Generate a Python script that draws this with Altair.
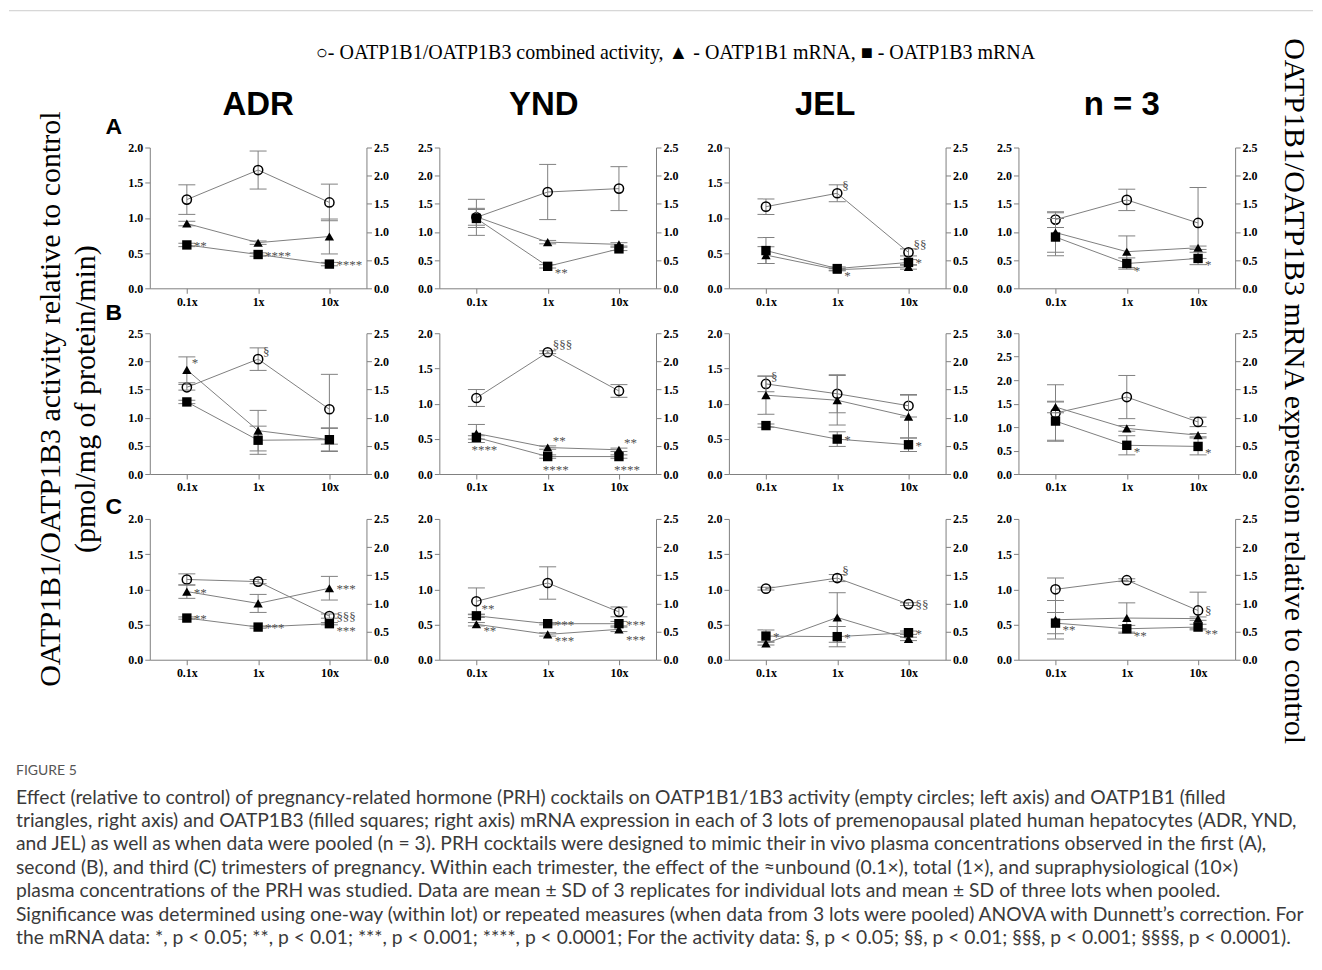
import altair as alt
import pandas as pd

# ---------------- data ----------------
DOSES = ["0.1x", "1x", "10x"]
LOTS = ["ADR", "YND", "JEL", "n = 3"]
TRIMESTERS = ["A", "B", "C"]
LEFT_MAX = [[2.0, 2.5, 2.0, 2.5], [2.5, 2.0, 2.0, 3.0], [2.0, 2.0, 2.0, 2.0]]
RIGHT_MAX = 2.5

# OATP1B1/1B3 combined activity (left axis), rows = lots, cols = doses
ACT_A = [[1.26, 1.68, 1.22], [1.26, 1.71, 1.77], [1.16, 1.35, 0.51], [1.22, 1.57, 1.16]]
ACT_A_SD = [[0.21, 0.27, 0.26], [0.32, 0.49, 0.39], [0.11, 0.12, 0.05], [0.14, 0.19, 0.63]]
ACT_B = [[1.54, 2.04, 1.15], [1.08, 1.73, 1.18], [1.28, 1.14, 0.97], [1.30, 1.64, 1.11]]
ACT_B_SD = [[0.05, 0.20, 0.62], [0.12, 0.02, 0.09], [0.11, 0.27, 0.16], [0.60, 0.46, 0.10]]
ACT_C = [[1.14, 1.11, 0.62], [0.83, 1.09, 0.68], [1.01, 1.16, 0.79], [1.00, 1.13, 0.70]]
ACT_C_SD = [[0.08, 0.03, 0.03], [0.19, 0.23, 0.07], [0.02, 0.05, 0.02], [0.16, 0.02, 0.26]]

# OATP1B1 mRNA (right axis)
B1_A = [[1.15, 0.81, 0.92], [1.27, 0.82, 0.78], [0.59, 0.33, 0.38], [0.99, 0.65, 0.72]]
B1_A_SD = [[0.04, 0.03, 0.31], [0.15, 0.03, 0.03], [0.15, 0.02, 0.04], [0.35, 0.28, 0.03]]
B1_B = [[1.85, 0.77, 0.61], [0.72, 0.47, 0.43], [1.40, 1.31, 1.02], [1.19, 0.81, 0.69]]
B1_B_SD = [[0.23, 0.36, 0.21], [0.16, 0.03, 0.03], [0.34, 0.44, 0.38], [0.10, 0.05, 0.03]]
B1_C = [[1.21, 1.00, 1.27], [0.63, 0.45, 0.54], [0.29, 0.75, 0.37], [0.71, 0.74, 0.73]]
B1_C_SD = [[0.12, 0.16, 0.21], [0.03, 0.03, 0.04], [0.03, 0.44, 0.03], [0.34, 0.27, 0.03]]

# OATP1B3 mRNA (right axis)
B3_A = [[0.77, 0.60, 0.43], [1.24, 0.39, 0.70], [0.67, 0.35, 0.46], [0.91, 0.44, 0.53]]
B3_A_SD = [[0.03, 0.03, 0.03], [0.16, 0.03, 0.03], [0.23, 0.03, 0.05], [0.33, 0.10, 0.11]]
B3_B = [[1.28, 0.60, 0.61], [0.65, 0.31, 0.31], [0.86, 0.62, 0.52], [0.94, 0.51, 0.49]]
B3_B_SD = [[0.03, 0.25, 0.20], [0.03, 0.03, 0.03], [0.03, 0.13, 0.12], [0.34, 0.17, 0.15]]
B3_C = [[0.74, 0.58, 0.64], [0.78, 0.64, 0.64], [0.42, 0.41, 0.48], [0.65, 0.55, 0.58]]
B3_C_SD = [[0.02, 0.02, 0.02], [0.03, 0.02, 0.04], [0.11, 0.18, 0.03], [0.19, 0.06, 0.05]]

# significance labels: (trimester, lot, series, dose, label)
ANNOT = [
    ("A", "ADR", "OATP1B3", "0.1x", "**"), ("A", "ADR", "OATP1B3", "1x", "****"),
    ("A", "ADR", "OATP1B3", "10x", "****"), ("A", "YND", "OATP1B3", "1x", "**"),
    ("A", "JEL", "act", "1x", "§"), ("A", "JEL", "act", "10x", "§§"),
    ("A", "JEL", "OATP1B3", "1x", "*"), ("A", "JEL", "OATP1B3", "10x", "*"),
    ("A", "n = 3", "OATP1B3", "1x", "*"), ("A", "n = 3", "OATP1B3", "10x", "*"),
    ("B", "ADR", "OATP1B1", "0.1x", "*"), ("B", "ADR", "act", "1x", "§"),
    ("B", "YND", "act", "1x", "§§§"), ("B", "YND", "OATP1B1", "1x", "**"),
    ("B", "YND", "OATP1B1", "10x", "**"), ("B", "YND", "OATP1B3", "0.1x", "****"),
    ("B", "YND", "OATP1B3", "1x", "****"), ("B", "YND", "OATP1B3", "10x", "****"),
    ("B", "JEL", "act", "0.1x", "§"), ("B", "JEL", "OATP1B3", "1x", "*"),
    ("B", "JEL", "OATP1B3", "10x", "*"),
    ("B", "n = 3", "OATP1B3", "1x", "*"), ("B", "n = 3", "OATP1B3", "10x", "*"),
    ("C", "ADR", "OATP1B1", "0.1x", "**"), ("C", "ADR", "OATP1B1", "10x", "***"),
    ("C", "ADR", "OATP1B3", "0.1x", "**"), ("C", "ADR", "OATP1B3", "1x", "***"),
    ("C", "ADR", "OATP1B3", "10x", "***"), ("C", "ADR", "act", "10x", "§§§"),
    ("C", "YND", "OATP1B3", "0.1x", "**"), ("C", "YND", "OATP1B3", "1x", "***"),
    ("C", "YND", "OATP1B3", "10x", "***"), ("C", "YND", "OATP1B1", "0.1x", "**"),
    ("C", "YND", "OATP1B1", "1x", "***"), ("C", "YND", "OATP1B1", "10x", "***"),
    ("C", "JEL", "act", "1x", "§"), ("C", "JEL", "act", "10x", "§§"),
    ("C", "JEL", "OATP1B3", "0.1x", "*"), ("C", "JEL", "OATP1B3", "1x", "*"),
    ("C", "JEL", "OATP1B3", "10x", "*"),
    ("C", "n = 3", "act", "10x", "§"), ("C", "n = 3", "OATP1B3", "0.1x", "**"),
    ("C", "n = 3", "OATP1B3", "1x", "**"), ("C", "n = 3", "OATP1B3", "10x", "**"),
]
# where each label sits relative to its marker (style only)
ANNOT_PLACE = [
    "r", "r", "r", "br",
    "tr", "tr", "br", "r",
    "br", "br",
    "tr", "tr", "tr", "tr", "tr", "b", "b", "b",
    "tr", "r", "r", "br", "br",
    "r", "r", "r", "r", "br", "r",
    "tr", "r", "r", "br", "br", "bb",
    "tr", "r", "r", "r", "r",
    "r", "br", "br", "br",
]

LEGEND_TEXT = "○- OATP1B1/OATP1B3 combined activity, ▲ - OATP1B1 mRNA, ■ - OATP1B3 mRNA"
LEFT_TITLE = ["OATP1B1/OATP1B3 activity relative to control", "(pmol/mg of protein/min)"]
RIGHT_TITLE = "OATP1B1/OATP1B3 mRNA expression relative to control"
FIG_LABEL = "FIGURE 5"
CAPTION = [
    "Effect (relative to control) of pregnancy-related hormone (PRH) cocktails on OATP1B1/1B3 activity (empty circles; left axis) and OATP1B1 (filled",
    "triangles, right axis) and OATP1B3 (filled squares; right axis) mRNA expression in each of 3 lots of premenopausal plated human hepatocytes (ADR, YND,",
    "and JEL) as well as when data were pooled (n = 3). PRH cocktails were designed to mimic their in vivo plasma concentrations observed in the first (A),",
    "second (B), and third (C) trimesters of pregnancy. Within each trimester, the effect of the ≈unbound (0.1×), total (1×), and supraphysiological (10×)",
    "plasma concentrations of the PRH was studied. Data are mean ± SD of 3 replicates for individual lots and mean ± SD of three lots when pooled.",
    "Significance was determined using one-way (within lot) or repeated measures (when data from 3 lots were pooled) ANOVA with Dunnett’s correction. For",
    "the mRNA data: *, p < 0.05; **, p < 0.01; ***, p < 0.001; ****, p < 0.0001; For the activity data: §, p < 0.05; §§, p < 0.01; §§§, p < 0.001; §§§§, p < 0.0001).",
]

# ---------------- styles ----------------
SERIF = "Liberation Serif"
SANS = "Liberation Sans"
CAP_FONT = "Lato"
GREY = "#808080"
W, H = 217, 141
TITLE_DX = [0, -4, -12, -5]
PLACE = {
    "r": dict(dx=7, dy=1),
    "br": dict(dx=7, dy=7),
    "bb": dict(dx=7, dy=11),
    "tr": dict(dx=5, dy=-7),
    "b": dict(dx=-5, dy=13),
}

# ---------------- tables ----------------
tables = {
    "act": ([ACT_A, ACT_B, ACT_C], [ACT_A_SD, ACT_B_SD, ACT_C_SD]),
    "OATP1B1": ([B1_A, B1_B, B1_C], [B1_A_SD, B1_B_SD, B1_C_SD]),
    "OATP1B3": ([B3_A, B3_B, B3_C], [B3_A_SD, B3_B_SD, B3_C_SD]),
}
recs = []
for series, (ms, ss) in tables.items():
    for ti, t in enumerate(TRIMESTERS):
        for li, lot in enumerate(LOTS):
            for di, d in enumerate(DOSES):
                recs.append(dict(tri=t, lot=lot, series=series, dose=d,
                                 value=ms[ti][li][di], sd=ss[ti][li][di]))
df = pd.DataFrame(recs)

ann = pd.DataFrame(ANNOT, columns=["tri", "lot", "series", "dose", "label"])
ann["place"] = ANNOT_PLACE
ann = ann.merge(df, on=["tri", "lot", "series", "dose"], how="left")


def yaxis(orient, maxv):
    vals = [round(0.5 * i, 1) for i in range(int(round(maxv / 0.5)) + 1)]
    return alt.Axis(orient=orient, values=vals, format=".1f", title=None, grid=False,
                    domainColor=GREY, tickColor=GREY, tickSize=5,
                    labelFont=SERIF, labelFontWeight="bold", labelFontSize=12,
                    labelColor="black", labelPadding=2)


XENC = alt.X("dose:O", sort=DOSES,
             scale=alt.Scale(type="point", domain=DOSES, padding=0.52),
             axis=alt.Axis(title=None, labelAngle=0, labelFont=SERIF, labelFontWeight="bold",
                           labelFontSize=12, labelColor="black", domainColor=GREY,
                           tickColor=GREY, tickSize=5, labelPadding=3))


def group(sub, ann_sub, maxv, orient, point_layer):
    scale = alt.Scale(domain=[0, maxv], nice=False, zero=True)
    ax = yaxis(orient, maxv)

    def Y(f):
        return alt.Y(f, scale=scale, axis=ax)

    base = alt.Chart(sub)
    errbase = base.transform_calculate(lo="datum.value - datum.sd", hi="datum.value + datum.sd")
    lines = base.mark_line(color=GREY, strokeWidth=1).encode(x=XENC, y=Y("value:Q"), detail="series:N")
    err = errbase.mark_rule(color=GREY, strokeWidth=1).encode(x=XENC, y=Y("lo:Q"), y2="hi:Q")
    caps = errbase.transform_fold(["lo", "hi"], as_=["end", "ev"]).mark_tick(
        color=GREY, size=17, thickness=1, orient="horizontal", opacity=1
    ).encode(x=XENC, y=Y("ev:Q"))
    layers = [lines, err, caps, point_layer(base, XENC, Y)]
    for key, off in PLACE.items():
        a = ann_sub[ann_sub["place"] == key]
        if len(a):
            layers.append(alt.Chart(a).mark_text(
                align="left", baseline="middle", font=SERIF, fontSize=13, color="#505050",
                **off
            ).encode(x=XENC, y=Y("value:Q"), text="label:N"))
    return alt.layer(*layers)


def circles(base, x, Y):
    return base.mark_point(shape="circle", size=85, filled=False, color="black",
                           strokeWidth=1.5, opacity=1).encode(x=x, y=Y("value:Q"))


def solids(base, x, Y):
    return base.mark_point(filled=True, size=88, color="black", opacity=1).encode(
        x=x, y=Y("value:Q"),
        shape=alt.Shape("series:N", scale=alt.Scale(domain=["OATP1B1", "OATP1B3"],
                                                     range=["triangle-up", "square"]), legend=None))


def panel(ti, li):
    t, lot = TRIMESTERS[ti], LOTS[li]
    sub = df[(df.tri == t) & (df.lot == lot)]
    asub = ann[(ann.tri == t) & (ann.lot == lot)]
    act = group(sub[sub.series == "act"], asub[asub.series == "act"], LEFT_MAX[ti][li], "left", circles)
    mrna = group(sub[sub.series != "act"], asub[asub.series != "act"], RIGHT_MAX, "right", solids)
    p = alt.layer(act, mrna).resolve_scale(y="independent").properties(width=W, height=H)
    if ti == 0:
        p = p.properties(title=alt.TitleParams(lot, font=SANS, fontWeight="bold", fontSize=33,
                                               anchor="middle", frame="group", offset=20,
                                               dx=TITLE_DX[li], color="black"))
    return p


rows = [alt.hconcat(*[panel(ti, li) for li in range(4)], spacing=29) for ti in range(3)]
grid = alt.vconcat(*rows, spacing=20,
                   title=alt.TitleParams(LEGEND_TEXT, font=SERIF, fontSize=20, fontWeight="normal",
                                         anchor="middle", dx=-17, offset=26, color="black"))

one = pd.DataFrame({"k": [0]})
# side charts: local y = 0 at the top of row A's plot area
left_layers = [
    alt.Chart(one).mark_text(angle=270, font=SERIF, fontSize=30, color="black",
                             text=LEFT_TITLE[0]).encode(x=alt.value(42), y=alt.value(252)),
    alt.Chart(one).mark_text(angle=270, font=SERIF, fontSize=30, color="black",
                             text=LEFT_TITLE[1]).encode(x=alt.value(77), y=alt.value(252)),
]
for letter, ly in zip(TRIMESTERS, [-21, 166, 360]):
    left_layers.append(alt.Chart(one).mark_text(font=SANS, fontWeight="bold", fontSize=23,
                                                color="black", text=letter)
                       .encode(x=alt.value(105), y=alt.value(ly)))
left = alt.layer(*left_layers).properties(width=119, height=400)

right = alt.Chart(one).mark_text(angle=90, font=SERIF, fontSize=30, color="black",
                                 text=RIGHT_TITLE).encode(
    x=alt.value(37), y=alt.value(244)).properties(width=54, height=400)

block = alt.hconcat(left, grid, right, spacing=0)

rule_chart = alt.Chart(one).mark_rule(color="#cccccc", strokeWidth=1).encode(
    x=alt.value(0), x2=alt.value(1306), y=alt.value(2)).properties(width=1306, height=28)

caption = alt.layer(
    alt.Chart(one).mark_text(align="left", baseline="middle", font=CAP_FONT, fontSize=14,
                             color="#555555", text=FIG_LABEL).encode(x=alt.value(7), y=alt.value(25)),
    alt.Chart(pd.DataFrame({"t": ["\n".join(CAPTION)]})).mark_text(
        align="left", baseline="alphabetic", font=CAP_FONT, fontSize=19.3, color="#3a3a3a",
        lineBreak="\n", lineHeight=23.5).encode(x=alt.value(7), y=alt.value(58), text="t:N"),
).properties(width=1306, height=212)

chart = alt.vconcat(rule_chart, block, caption, spacing=0).properties(
    padding=0, background="white").configure_view(strokeWidth=0)

chart.save("out.html", embed_options={"renderer": "svg", "actions": False})
